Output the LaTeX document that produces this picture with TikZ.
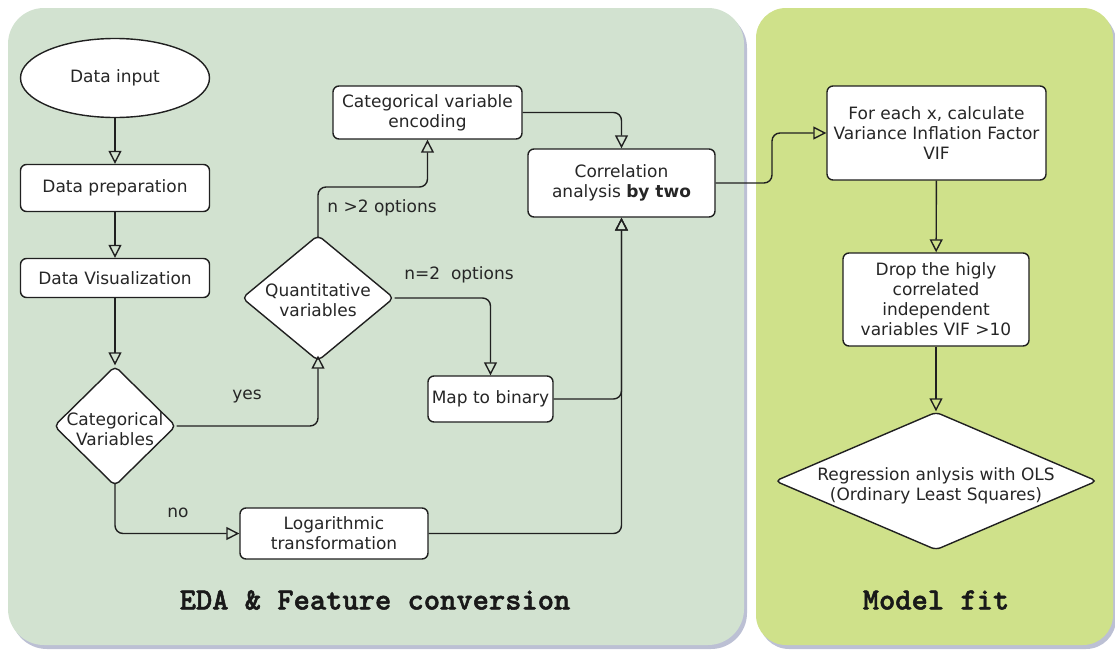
\documentclass[tikz,border=0pt]{standalone}
\usepackage{fontspec}
\setmainfont{DejaVu Sans}
\newfontfamily\titlefont{lmmonolt10-bold}[Extension=.otf, FakeBold=1.6]
\usetikzlibrary{shapes.geometric,arrows.meta,calc}

\definecolor{edapanel}{HTML}{D2E2D0}
\definecolor{fitpanel}{HTML}{CFE18A}
\definecolor{panelshade}{HTML}{BCC0D4}
\definecolor{inkline}{HTML}{202020}
\definecolor{inktext}{HTML}{262626}

\begin{document}
\begin{tikzpicture}[x=1pt,y=-1pt,
  every node/.style={font=\fontsize{17}{20}\selectfont, text=inktext},
  stepbox/.style={draw=inkline, fill=white, line width=1.4pt, rounded corners=6pt,
    align=center, inner sep=0pt},
  startnode/.style={ellipse, draw=inkline, fill=white, line width=1.4pt, inner sep=0pt},
  decision/.style={diamond, draw=inkline, fill=white, line width=1.4pt,
    rounded corners=5pt, inner sep=0pt},
  dtext/.style={align=center, inner sep=0pt},
  conn/.style={draw=inkline, line width=1.4pt, rounded corners=8pt},
  flow/.style={conn, -{Triangle[open, length=13pt, width=13pt]}},
  edgelabel/.style={inner sep=0pt},
  paneltitle/.style={font=\titlefont\fontsize{31}{34}\selectfont, text=black!90}
]
\useasboundingbox (0,0) rectangle (1115,653);

% panels with a soft shade along the lower right
\fill[panelshade, rounded corners=36pt] (11,12) rectangle (747,649);
\fill[edapanel, rounded corners=36pt] (8,8) rectangle (744,645);
\fill[panelshade, rounded corners=30pt] (759,12) rectangle (1116,649);
\fill[fitpanel, rounded corners=30pt] (756,8) rectangle (1113,645);

% EDA steps
\node[startnode, minimum width=189pt, minimum height=79pt] (inp) at (115,78) {Data input};
\node[stepbox, minimum width=189pt, minimum height=47pt] (prep) at (115,188) {Data preparation};
\node[stepbox, minimum width=189pt, minimum height=39pt] (vis) at (115,278) {Data Visualization};
\node[decision, minimum width=122pt, minimum height=120pt] (cat) at (115,426) {};
\node[dtext] (catT) at (115,429) {Categorical\\Variables};
\node[decision, minimum width=152pt, minimum height=126pt] (quant) at (318,298) {};
\node[dtext] (quantT) at (318,300) {Quantitative\\variables};
\node[stepbox, minimum width=189pt, minimum height=53pt] (enc) at (427.5,112.5) {Categorical variable\\encoding};
\node[stepbox, minimum width=125pt, minimum height=46pt] (bin) at (490.5,399) {Map to binary};
\node[stepbox, minimum width=188pt, minimum height=51pt] (log) at (334,533.5) {Logarithmic\\transformation};
\node[stepbox, minimum width=187pt, minimum height=68pt] (corr) at (621.5,183) {Correlation\\analysis \textbf{by two}};

% model fitting steps
\node[stepbox, minimum width=219pt, minimum height=94pt] (vif) at (936.5,133) {For each x, calculate\\Variance Inflation Factor\\VIF};
\node[stepbox, minimum width=186pt, minimum height=93pt] (drop) at (936,299.5) {Drop the higly\\correlated\\independent\\variables VIF >10};
\node[decision, minimum width=322pt, minimum height=138pt] (reg) at (936,481) {};
\node[dtext] (regT) at (936,486) {Regression anlysis with OLS\\(Ordinary Least Squares)};

% bend points
\coordinate (qbend) at (318,187);
\coordinate (hop) at (772,183);

% connectors
\draw[flow] (inp) -- (prep);
\draw[flow] (prep) -- (vis);
\draw[flow] (vis) -- (cat);
\draw[flow] (cat.east) -| ([yshift=6pt]quant.south);
\draw[flow] ([yshift=4pt]cat.south) |- (log.west);
\draw[flow] ([yshift=-4pt]quant.north) -- (qbend) -| (enc.south);
\draw[flow] (quant.east) -| (bin.north);
\draw[flow] (enc.east) -| (corr.north);
\draw[flow] (bin.east) -| (corr.south);
\draw[flow] (log.east) -| (corr.south);
\draw[flow] (corr.east) -- (hop) |- (vif.west);
\draw[flow] (vif) -- (drop);
\draw[flow] (drop) -- (reg);

% branch labels
\node[edgelabel] (yesL) at (247,397) {yes};
\node[edgelabel] (noL) at (178,513) {no};
\node[edgelabel] (manyL) at (382,208) {n >2 options};
\node[edgelabel] (twoL) at (459,275) {n=2\ \ options};

% panel titles
\node[paneltitle] (edaT) at (375,600) {EDA \& Feature conversion};
\node[paneltitle] (fitT) at (936,600) {Model fit};
\end{tikzpicture}
\end{document}
